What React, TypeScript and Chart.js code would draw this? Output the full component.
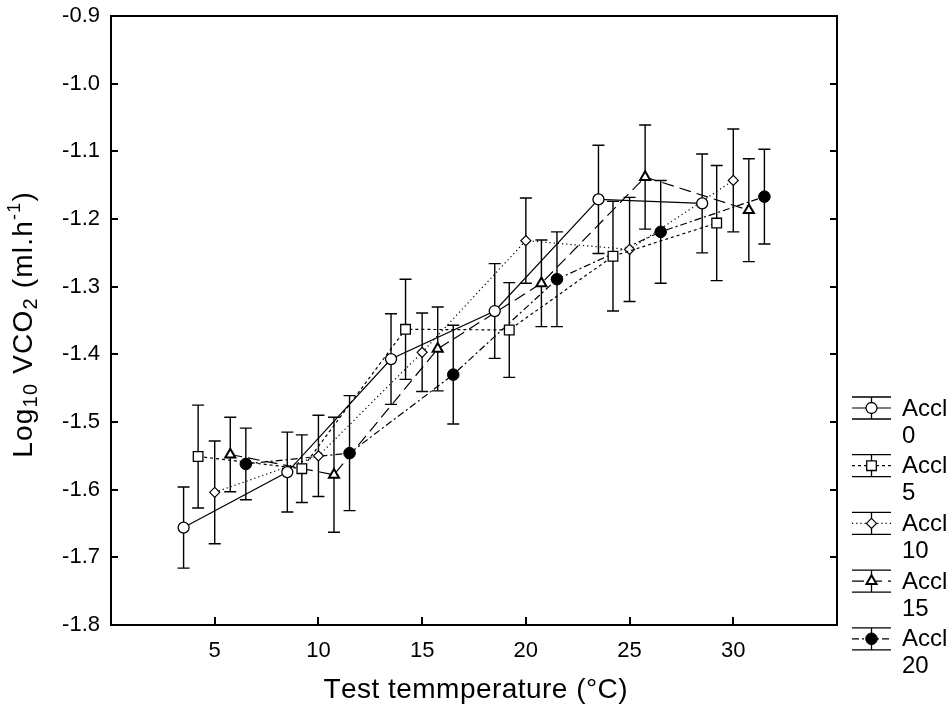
import React, { useEffect, useRef } from 'react';
import { Chart, registerables } from 'chart.js';

Chart.register(...registerables);

const FONT = "'Liberation Sans', Arial, Helvetica, sans-serif";

// ---- data ----
const seriesNames = ['Accl 0', 'Accl 5', 'Accl 10', 'Accl 15', 'Accl 20'];

const accl0X = [3.5, 8.5, 13.5, 18.5, 23.5, 28.5];
const accl0Y = [-1.656, -1.574, -1.407, -1.336, -1.171, -1.177];
const accl0Err = [0.06, 0.059, 0.067, 0.07, 0.08, 0.073];

const accl5X = [4.2, 9.2, 14.2, 19.2, 24.2, 29.2];
const accl5Y = [-1.551, -1.569, -1.363, -1.364, -1.255, -1.206];
const accl5Err = [0.076, 0.05, 0.074, 0.07, 0.081, 0.085];

const accl10X = [5, 10, 15, 20, 25, 30];
const accl10Y = [-1.604, -1.55, -1.397, -1.232, -1.245, -1.143];
const accl10Err = [0.076, 0.06, 0.058, 0.063, 0.077, 0.076];

const accl15X = [5.75, 10.75, 15.75, 20.75, 25.75, 30.75];
const accl15Y = [-1.548, -1.578, -1.392, -1.295, -1.138, -1.187];
const accl15Err = [0.055, 0.085, 0.062, 0.064, 0.077, 0.076];

const accl20X = [6.5, 11.5, 16.5, 21.5, 26.5, 31.5];
const accl20Y = [-1.562, -1.546, -1.43, -1.289, -1.219, -1.167];
const accl20Err = [0.053, 0.085, 0.073, 0.07, 0.076, 0.07];

const xTickValues = [5, 10, 15, 20, 25, 30];
const xTickLabels = ['5', '10', '15', '20', '25', '30'];
const yTickValues = [-1.8, -1.7, -1.6, -1.5, -1.4, -1.3, -1.2, -1.1, -1.0, -0.9];
const yTickLabels = ['-1.8', '-1.7', '-1.6', '-1.5', '-1.4', '-1.3', '-1.2', '-1.1', '-1.0', '-0.9'];

const xTitle = 'Test temmperature (°C)';

// ---- styles ----
type Sty = { shape: string; dash: number[]; fill: string; r: number; bw: number };
const styles: Sty[] = [
  { shape: 'circle', dash: [], fill: '#ffffff', r: 5.5, bw: 1.3 },
  { shape: 'rect', dash: [3, 3], fill: '#ffffff', r: 6.8, bw: 1.3 },
  { shape: 'rectRot', dash: [1.2, 3], fill: '#ffffff', r: 5, bw: 1.2 },
  { shape: 'triangle', dash: [12, 6], fill: '#ffffff', r: 5.8, bw: 2 },
  { shape: 'circle', dash: [7, 3, 2, 3], fill: '#000000', r: 5.8, bw: 1 },
];

const xs = [accl0X, accl5X, accl10X, accl15X, accl20X];
const ys = [accl0Y, accl5Y, accl10Y, accl15Y, accl20Y];
const errs = [accl0Err, accl5Err, accl10Err, accl15Err, accl20Err];

function drawMarker(ctx: CanvasRenderingContext2D, shape: string, x: number, y: number, r: number, fill: string, bw: number) {
  ctx.save();
  ctx.setLineDash([]);
  ctx.lineWidth = bw;
  ctx.strokeStyle = '#000';
  ctx.fillStyle = fill;
  ctx.beginPath();
  if (shape === 'circle') {
    ctx.arc(x, y, r, 0, Math.PI * 2);
  } else if (shape === 'rect') {
    const s = r * Math.SQRT1_2;
    ctx.rect(x - s, y - s, 2 * s, 2 * s);
  } else if (shape === 'rectRot') {
    ctx.moveTo(x, y - r);
    ctx.lineTo(x + r, y);
    ctx.lineTo(x, y + r);
    ctx.lineTo(x - r, y);
    ctx.closePath();
  } else if (shape === 'triangle') {
    for (let k = 0; k < 3; k++) {
      const a = (k * 2 * Math.PI) / 3;
      const px = x + Math.sin(a) * r;
      const py = y - Math.cos(a) * r;
      if (k === 0) ctx.moveTo(px, py);
      else ctx.lineTo(px, py);
    }
    ctx.closePath();
  }
  ctx.fill();
  ctx.stroke();
  ctx.restore();
}

const errorBarPlugin = {
  id: 'errorBars',
  beforeDatasetsDraw(chart: any) {
    const { ctx, scales } = chart;
    const x = scales.x;
    const y = scales.y;
    ctx.save();
    ctx.strokeStyle = '#000';
    ctx.lineWidth = 1.4;
    ctx.setLineDash([]);
    chart.data.datasets.forEach((ds: any) => {
      ds.data.forEach((p: any, i: number) => {
        const e = ds.errors[i];
        const px = x.getPixelForValue(p.x);
        const pt = y.getPixelForValue(p.y + e);
        const pb = y.getPixelForValue(p.y - e);
        ctx.beginPath();
        ctx.moveTo(px, pt);
        ctx.lineTo(px, pb);
        ctx.moveTo(px - 6, pt);
        ctx.lineTo(px + 6, pt);
        ctx.moveTo(px - 6, pb);
        ctx.lineTo(px + 6, pb);
        ctx.stroke();
      });
    });
    ctx.restore();
  },
};

// draws text pieces centred on 0, with light letter spacing to reach a target length
function drawFitted(ctx: any, parts: { t: string; size: number; dy: number }[], target: number) {
  let natural = 0;
  let chars = 0;
  parts.forEach((p) => {
    ctx.font = `${p.size}px ${FONT}`;
    natural += ctx.measureText(p.t).width;
    chars += p.t.length;
  });
  const sp = Math.min(1.2, Math.max(0, (target - natural) / Math.max(1, chars - 1)));
  const total = natural + sp * (chars - 1);
  let cx = -total / 2;
  parts.forEach((p) => {
    ctx.font = `${p.size}px ${FONT}`;
    for (const ch of p.t) {
      ctx.fillText(ch, cx, p.dy);
      cx += ctx.measureText(ch).width + sp;
    }
  });
}

const framePlugin = {
  id: 'frame',
  afterDraw(chart: any) {
    const { ctx, chartArea, scales } = chart;
    const { left, right, top, bottom } = chartArea;
    ctx.save();
    ctx.strokeStyle = '#000';
    ctx.lineWidth = 2;
    ctx.setLineDash([]);
    ctx.strokeRect(left, top, right - left, bottom - top);
    // inner ticks
    ctx.beginPath();
    xTickValues.forEach((v) => {
      const px = Math.round(scales.x.getPixelForValue(v));
      ctx.moveTo(px, bottom);
      ctx.lineTo(px, bottom - 8);
    });
    yTickValues.slice(1, -1).forEach((v) => {
      const py = Math.round(scales.y.getPixelForValue(v));
      ctx.moveTo(left, py);
      ctx.lineTo(left + 7, py);
      ctx.moveTo(right, py);
      ctx.lineTo(right - 7, py);
    });
    ctx.stroke();

    // x title
    ctx.fillStyle = '#000';
    ctx.textAlign = 'left';
    ctx.textBaseline = 'middle';
    ctx.save();
    ctx.translate(474, 690);
    drawFitted(ctx, [{ t: xTitle, size: 28, dy: 0 }], 301);
    ctx.restore();

    // y title with sub/superscripts
    ctx.save();
    ctx.translate(32, 325);
    ctx.rotate(-Math.PI / 2);
    ctx.textBaseline = 'alphabetic';
    drawFitted(
      ctx,
      [
        { t: 'Log', size: 28, dy: 0 },
        { t: '10', size: 20, dy: 5 },
        { t: ' VCO', size: 28, dy: 0 },
        { t: '2', size: 20, dy: 5 },
        { t: ' (ml.h', size: 28, dy: 0 },
        { t: '-1', size: 18, dy: -12 },
        { t: ')', size: 28, dy: 0 },
      ],
      285
    );
    ctx.restore();

    // legend
    const lx0 = 852;
    const lx1 = 891;
    const lxc = (lx0 + lx1) / 2;
    chart.data.datasets.forEach((ds: any, i: number) => {
      const st = styles[i];
      const cy = 408 + i * 57.7;
      ctx.strokeStyle = '#000';
      ctx.lineWidth = 1.3;
      ctx.setLineDash([]);
      ctx.beginPath();
      ctx.moveTo(lx0, cy - 11);
      ctx.lineTo(lx1, cy - 11);
      ctx.moveTo(lx0, cy + 11);
      ctx.lineTo(lx1, cy + 11);
      ctx.moveTo(lxc, cy - 11);
      ctx.lineTo(lxc, cy + 11);
      ctx.stroke();
      ctx.setLineDash(st.dash);
      ctx.lineWidth = 1.2;
      ctx.beginPath();
      ctx.moveTo(lx0, cy);
      ctx.lineTo(lx1, cy);
      ctx.stroke();
      ctx.setLineDash([]);
      drawMarker(ctx, st.shape, lxc, cy, st.r, st.fill, st.bw);
      const words = String(ds.label).split(' ');
      ctx.fillStyle = '#000';
      ctx.font = `24px ${FONT}`;
      ctx.textAlign = 'left';
      ctx.textBaseline = 'middle';
      ctx.fillText(words[0], 902, cy + 1);
      ctx.fillText(words[1], 902, cy + 28);
    });
    ctx.restore();
  },
};

export default function App() {
  const ref = useRef<HTMLCanvasElement>(null);
  useEffect(() => {
    if (!ref.current) return;
    const datasets = seriesNames.map((name, i) => ({
      label: name,
      data: xs[i].map((x, k) => ({ x, y: ys[i][k] })),
      errors: errs[i],
      borderColor: '#000',
      borderWidth: 1.2,
      borderDash: styles[i].dash,
      backgroundColor: styles[i].fill,
      pointStyle: styles[i].shape,
      pointRadius: styles[i].r,
      pointBorderWidth: styles[i].bw,
      pointBackgroundColor: styles[i].fill,
      pointBorderColor: '#000',
      tension: 0,
      fill: false,
    }));
    const chart = new Chart(ref.current, {
      type: 'line',
      data: { datasets } as any,
      plugins: [errorBarPlugin, framePlugin],
      options: {
        animation: false,
        responsive: false,
        devicePixelRatio: 1,
        layout: { padding: { top: 16, right: 115, left: 0, bottom: 0 } },
        plugins: { legend: { display: false }, tooltip: { enabled: false } },
        scales: {
          x: {
            type: 'linear',
            min: 0,
            max: 35,
            grid: { display: false, drawTicks: false },
            border: { display: false },
            afterBuildTicks: (s: any) => {
              s.ticks = xTickValues.map((v) => ({ value: v }));
            },
            afterFit: (s: any) => {
              s.height = 86;
              s.paddingLeft = 0;
              s.paddingRight = 0;
            },
            ticks: {
              color: '#000',
              padding: 13,
              font: { family: FONT, size: 22 },
              callback: (v: any) => xTickLabels[xTickValues.indexOf(Number(v))] ?? '',
            },
          },
          y: {
            type: 'linear',
            min: -1.8,
            max: -0.9,
            grid: { display: false, drawTicks: false },
            border: { display: false },
            afterBuildTicks: (s: any) => {
              s.ticks = yTickValues.map((v) => ({ value: v }));
            },
            afterFit: (s: any) => {
              s.width = 111;
              s.paddingTop = 0;
              s.paddingBottom = 0;
            },
            ticks: {
              color: '#000',
              padding: 11,
              font: { family: FONT, size: 22 },
              callback: (v: any) => {
                const idx = yTickValues.findIndex((t) => Math.abs(t - Number(v)) < 1e-6);
                return idx >= 0 ? yTickLabels[idx] : '';
              },
            },
          },
        },
      } as any,
    });
    return () => chart.destroy();
  }, []);
  return (
    <div style={{ position: 'absolute', left: 0, top: 0, width: 952, height: 711, background: '#fff' }}>
      <canvas ref={ref} width={952} height={711} style={{ display: 'block' }} />
    </div>
  );
}
